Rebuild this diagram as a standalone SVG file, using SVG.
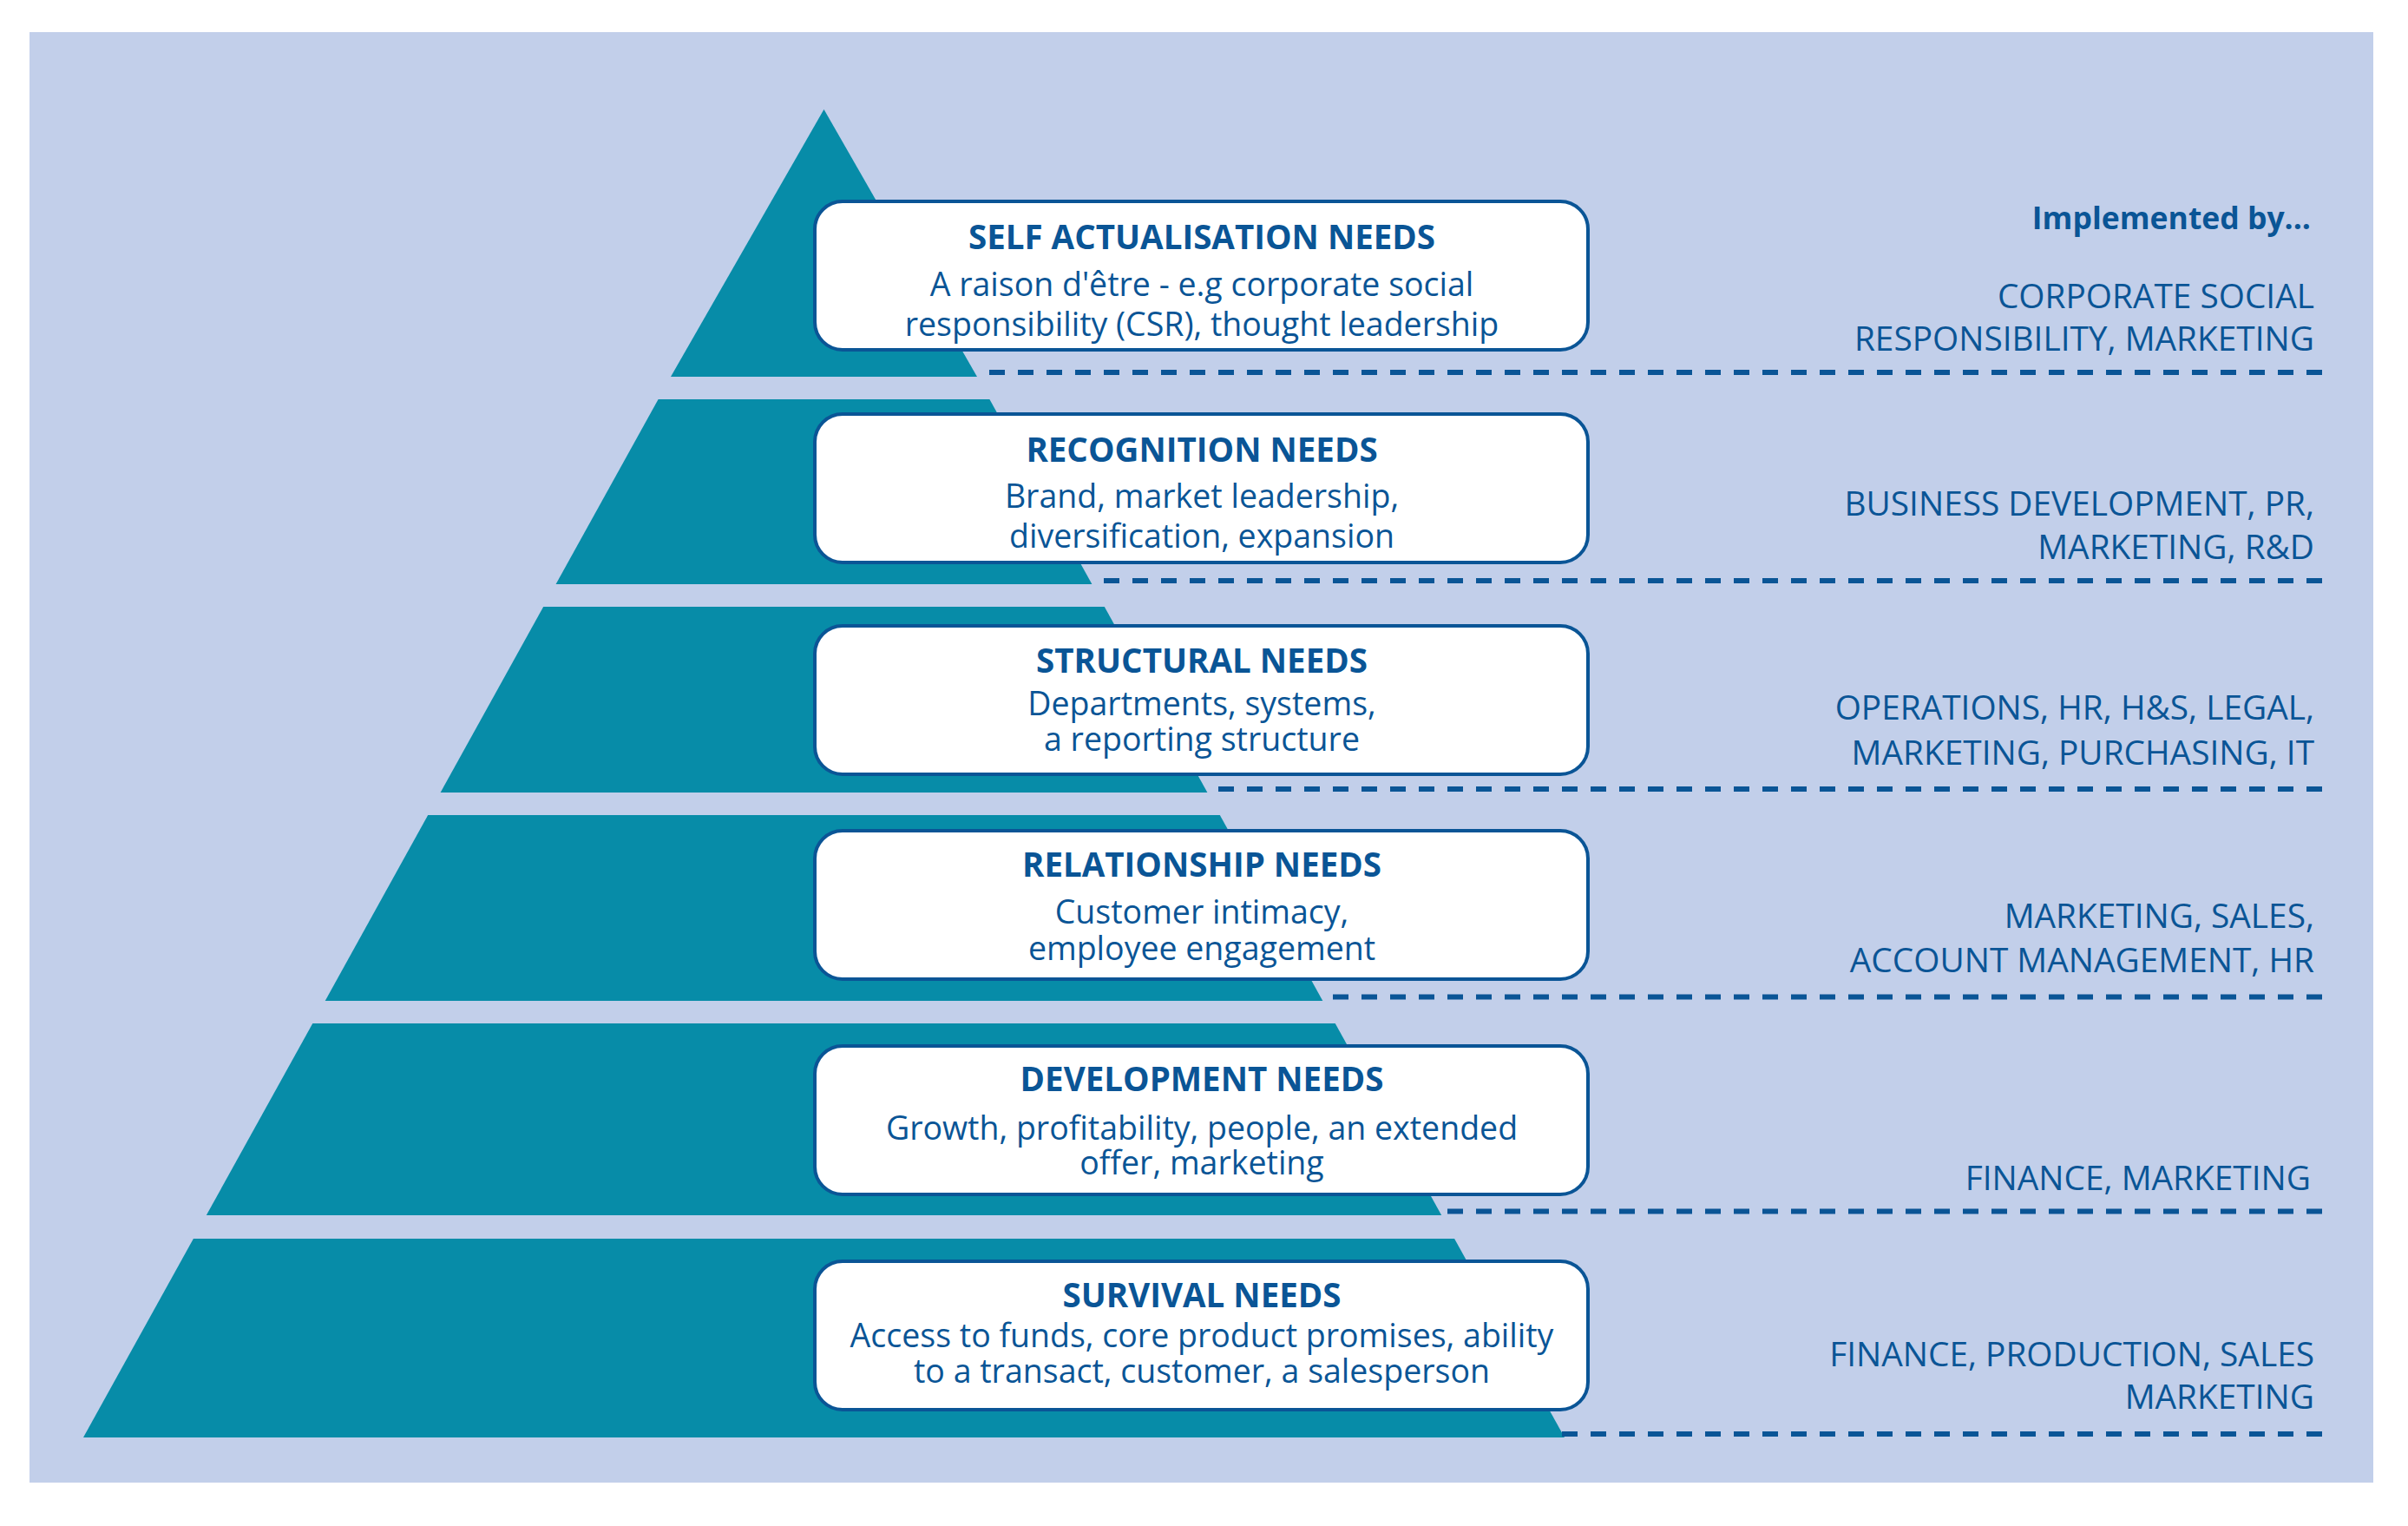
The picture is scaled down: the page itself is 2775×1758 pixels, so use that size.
<svg xmlns="http://www.w3.org/2000/svg" width="2775" height="1758" viewBox="0 0 2775 1758">
<style>
.bg{fill:#C2CFEA}
.band{fill:#078CA8}
.box{fill:#FFFFFF;stroke:#0A5596;stroke-width:4}
.t{font-family:"Open Sans","Noto Sans",sans-serif;font-weight:700;font-size:38.5px;fill:#0A5596;text-anchor:middle}
.d{font-family:"Open Sans","Noto Sans",sans-serif;font-weight:400;font-size:37.5px;fill:#0A5596;text-anchor:middle}
.r{font-family:"Open Sans","Noto Sans",sans-serif;font-weight:400;font-size:38.8px;fill:#0A5596;text-anchor:end}
.rb{font-family:"Open Sans","Noto Sans",sans-serif;font-weight:700;font-size:35.5px;fill:#0A5596;text-anchor:end}
.dash{fill:none;stroke:#0A5596;stroke-width:6;stroke-dasharray:18 15}
</style>
<rect class="bg" x="34" y="37" width="2701" height="1671"/>
<g id="pyramid">
<polygon class="band" points="949.5,126 1126,434 773,434"/>
<polygon class="band" points="758.6,460 1140.4,460 1258.4,673 640.6,673"/>
<polygon class="band" points="626.2,699 1272.8,699 1391.4,913 507.6,913"/>
<polygon class="band" points="493.2,939 1405.8,939 1524.3,1153 374.7,1153"/>
<polygon class="band" points="360.3,1179 1538.7,1179 1661.2,1400 237.8,1400"/>
<polygon class="band" points="222.9,1427 1676.1,1427 1803,1656 96,1656"/>
</g>
<g id="connectors">
<path class="dash" d="M2676 429 L1128 429"/>
<path class="dash" d="M2676 669 L1258 669"/>
<path class="dash" d="M2676 909 L1392 909"/>
<path class="dash" d="M2676 1148.5 L1525 1148.5"/>
<path class="dash" d="M2676 1395.5 L1660 1395.5"/>
<path class="dash" d="M2676 1652 L1800 1652"/>
</g>
<g id="node-self-actualisation">
<rect class="box" x="939" y="232" width="891" height="171" rx="32"/>
<text class="t" x="1385" y="287">SELF ACTUALISATION NEEDS</text>
<text class="d" x="1385" y="341">A raison d'être - e.g corporate social</text>
<text class="d" x="1385" y="387">responsibility (CSR), thought leadership</text>
</g>
<g id="node-recognition">
<rect class="box" x="939" y="477" width="891" height="171" rx="32"/>
<text class="t" x="1385" y="532">RECOGNITION NEEDS</text>
<text class="d" x="1385" y="585">Brand, market leadership,</text>
<text class="d" x="1385" y="631">diversification, expansion</text>
</g>
<g id="node-structural">
<rect class="box" x="939" y="721" width="891" height="171" rx="32"/>
<text class="t" x="1385" y="775">STRUCTURAL NEEDS</text>
<text class="d" x="1385" y="824">Departments, systems,</text>
<text class="d" x="1385" y="865">a reporting structure</text>
</g>
<g id="node-relationship">
<rect class="box" x="939" y="957" width="891" height="171" rx="32"/>
<text class="t" x="1385" y="1010">RELATIONSHIP NEEDS</text>
<text class="d" x="1385" y="1064">Customer intimacy,</text>
<text class="d" x="1385" y="1106">employee engagement</text>
</g>
<g id="node-development">
<rect class="box" x="939" y="1205" width="891" height="171" rx="32"/>
<text class="t" x="1385" y="1257">DEVELOPMENT NEEDS</text>
<text class="d" x="1385" y="1313">Growth, profitability, people, an extended</text>
<text class="d" x="1385" y="1353">offer, marketing</text>
</g>
<g id="node-survival">
<rect class="box" x="939" y="1453" width="891" height="171" rx="32"/>
<text class="t" x="1385" y="1506">SURVIVAL NEEDS</text>
<text class="d" x="1385" y="1552">Access to funds, core product promises, ability</text>
<text class="d" x="1385" y="1593">to a transact, customer, a salesperson</text>
</g>
<g id="implemented-by">
<text class="rb" x="2663" y="264">Implemented by...</text>
<text class="r" x="2667" y="355">CORPORATE SOCIAL</text>
<text class="r" x="2667" y="404">RESPONSIBILITY, MARKETING</text>
<text class="r" x="2667" y="594">BUSINESS DEVELOPMENT, PR,</text>
<text class="r" x="2667" y="644">MARKETING, R&amp;D</text>
<text class="r" x="2667" y="829">OPERATIONS, HR, H&amp;S, LEGAL,</text>
<text class="r" x="2667" y="881">MARKETING, PURCHASING, IT</text>
<text class="r" x="2667" y="1069">MARKETING, SALES,</text>
<text class="r" x="2667" y="1120">ACCOUNT MANAGEMENT, HR</text>
<text class="r" x="2663" y="1371">FINANCE, MARKETING</text>
<text class="r" x="2667" y="1574">FINANCE, PRODUCTION, SALES</text>
<text class="r" x="2667" y="1623">MARKETING</text>
</g>
</svg>
